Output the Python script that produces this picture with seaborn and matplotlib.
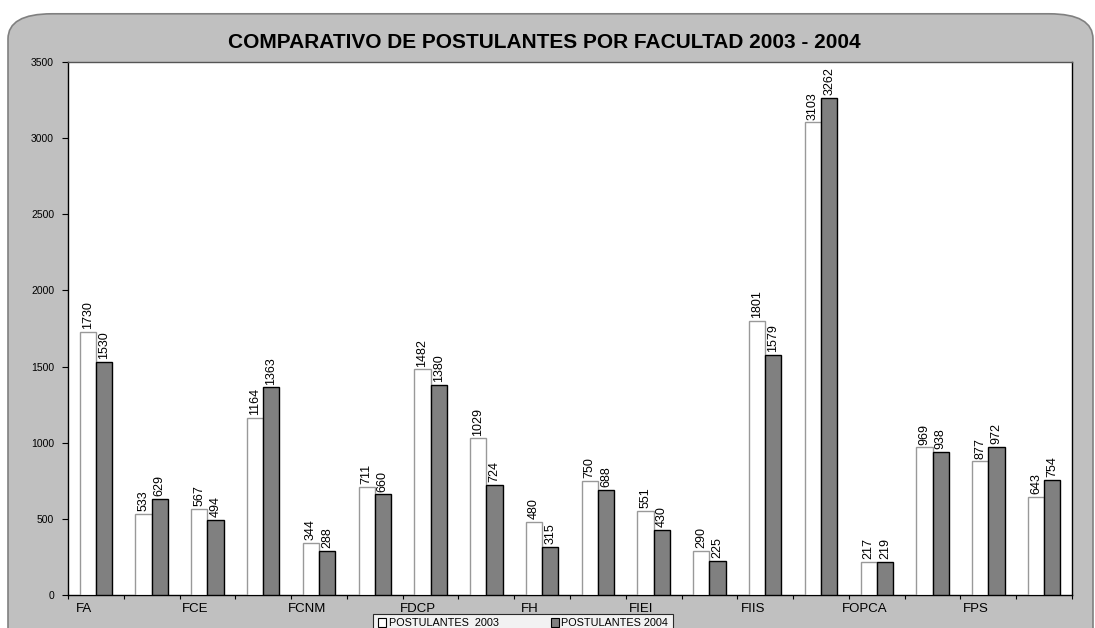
import pandas as pd
import matplotlib.pyplot as plt
import seaborn as sns
from matplotlib.patches import FancyBboxPatch, Patch

sns.set_style("white")
plt.rcParams['font.family'] = ['Liberation Sans', 'DejaVu Sans']
plt.rcParams['text.color'] = 'black'
plt.rcParams['xtick.color'] = 'black'
plt.rcParams['ytick.color'] = 'black'

# Data (18 groups, Excel only shows every other category label)
tick_labels = ["FA", "", "FCE", "", "FCNM", "", "FDCP", "", "FH", "",
               "FIEI", "", "FIIS", "", "FOPCA", "", "FPS", ""]
post_2003 = [1730, 533, 567, 1164, 344, 711, 1482, 1029, 480,
             750, 551, 290, 1801, 3103, 217, 969, 877, 643]
post_2004 = [1530, 629, 494, 1363, 288, 660, 1380, 724, 315,
             688, 430, 225, 1579, 3262, 219, 938, 972, 754]
series = ["POSTULANTES  2003", "POSTULANTES 2004"]

df = pd.DataFrame({
    "grupo": list(range(len(post_2003))) * 2,
    "valor": post_2003 + post_2004,
    "serie": [series[0]] * len(post_2003) + [series[1]] * len(post_2004),
})

fig = plt.figure(figsize=(10.95, 6.28), dpi=100)
W, H = 1095, 628

# rounded gray background panel
bg = FancyBboxPatch((8 / W, -0.1), (1093 - 8) / W, (614 + 63) / H,
                    boxstyle="round,pad=0,rounding_size=0.04",
                    transform=fig.transFigure, facecolor="#C0C0C0",
                    edgecolor="#808080", linewidth=1.2, zorder=-10)
fig.patches.append(bg)

ax = fig.add_axes([68 / W, (628 - 595) / H, (1072 - 68) / W, (595 - 62) / H])
ax.set_facecolor("white")

sns.barplot(data=df, x="grupo", y="valor", hue="serie", hue_order=series,
            palette=["white", "#808080"], width=0.58, gap=0,
            legend=False, ax=ax, zorder=3)

edges = ["#999999", "black"]
for cont, ec in zip(ax.containers, edges):
    for bar in cont:
        bar.set_edgecolor(ec)
        bar.set_linewidth(1)
    ax.bar_label(cont, fmt="%d", rotation=90, padding=2, fontsize=9)

ax.set_ylim(0, 3500)
ax.set_xlim(-0.5, len(post_2003) - 0.5)
ax.set_yticks(range(0, 3501, 500))
ax.tick_params(axis="y", labelsize=7.5, length=4, direction="out", width=0.8,
               left=True, pad=6)

# labels (slightly left of group centre, like Excel) and ticks at boundaries
ax.set_xticks([i - 0.22 for i in range(len(tick_labels))])
ax.set_xticklabels(tick_labels, fontsize=9.5)
ax.tick_params(axis="x", length=0, pad=6)
ax.set_xticks([i - 0.5 for i in range(len(tick_labels) + 1)], minor=True)
ax.tick_params(axis="x", which="minor", length=3, direction="out", width=0.8,
               bottom=True)
ax.set_xlabel("")
ax.set_ylabel("")

for side, sp in ax.spines.items():
    sp.set_visible(True)
    sp.set_color("black")
    sp.set_linewidth(1)
ax.spines["top"].set_color("#555555")

fig.text(544 / W, 1 - 43 / H, "COMPARATIVO DE POSTULANTES POR FACULTAD 2003 - 2004",
         ha="center", va="center", fontsize=15, fontweight="bold")

handles = [Patch(facecolor="white", edgecolor="black", linewidth=0.8),
           Patch(facecolor="#808080", edgecolor="black", linewidth=0.8)]
leg = fig.legend(handles, series, loc="upper center",
                 bbox_to_anchor=(523 / W, 1 - 614 / H), ncol=2, fontsize=7.8,
                 frameon=True, fancybox=False, edgecolor="black",
                 handlelength=0.8, handleheight=0.8, handletextpad=0.2,
                 columnspacing=4.8, borderpad=0.4, borderaxespad=0)
leg.get_frame().set_linewidth(0.8)

fig.savefig("out.png", dpi=100)
